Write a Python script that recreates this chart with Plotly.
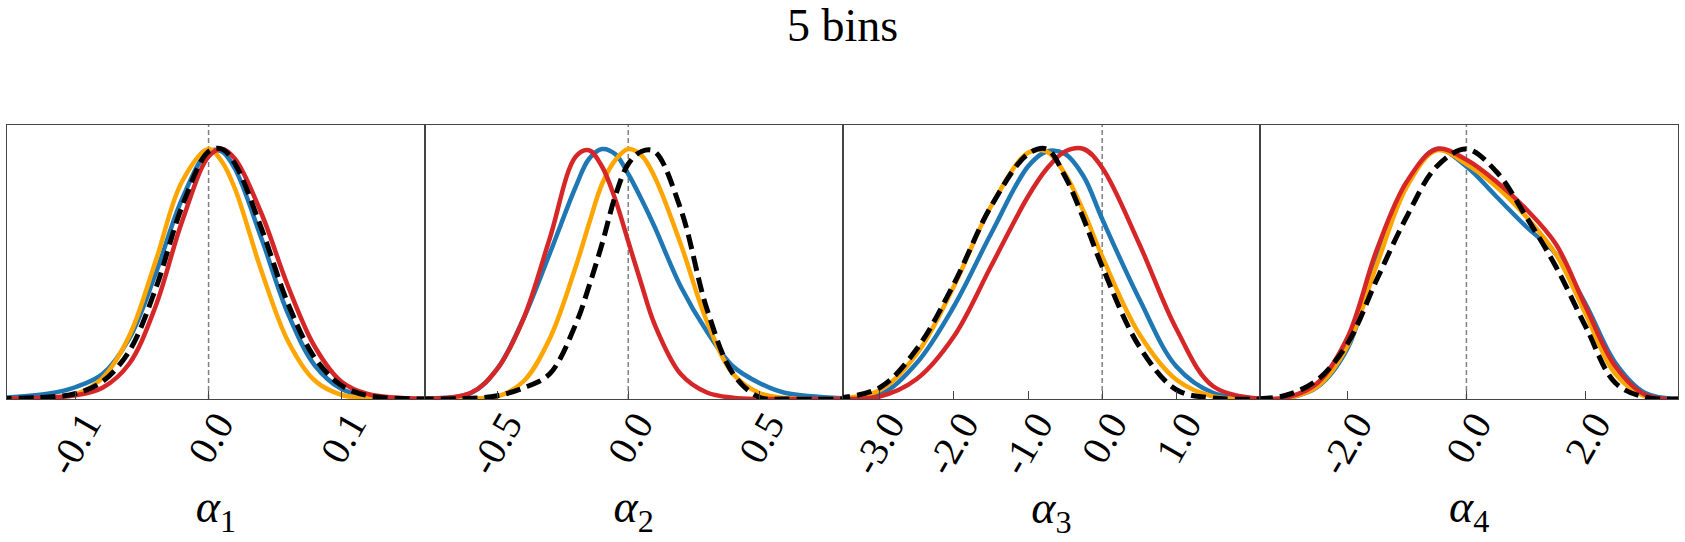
import plotly.graph_objects as go
from plotly.subplots import make_subplots

# ---- alpha_1 ----
P1_X = [-0.16, -0.12, -0.10, -0.08, -0.06, -0.04, -0.02, 0.0, 0.01, 0.02, 0.04, 0.06, 0.08, 0.10, 0.12, 0.17]
P1_BLUE = [0.004, 0.022, 0.048, 0.10, 0.24, 0.50, 0.80, 0.99, 0.99, 0.92, 0.64, 0.34, 0.135, 0.041, 0.01, 0.0]
P1_ORANGE = [0.001, 0.004, 0.02, 0.084, 0.25, 0.55, 0.87, 1.0, 0.95, 0.84, 0.51, 0.23, 0.074, 0.017, 0.003, 0.0]
P1_RED = [0.001, 0.006, 0.015, 0.045, 0.14, 0.37, 0.71, 0.97, 1.0, 0.96, 0.74, 0.45, 0.21, 0.07, 0.02, 0.0]
P1_TRUE = [0.001, 0.008, 0.022, 0.07, 0.19, 0.44, 0.77, 0.99, 1.0, 0.94, 0.68, 0.38, 0.165, 0.055, 0.014, 0.0]
P1_TICKS = [-0.1, 0.0, 0.1]
P1_LABELS = ["-0.1", "0.0", "0.1"]

# ---- alpha_2 ----
P2_X = [-0.8, -0.6, -0.5, -0.4, -0.3, -0.2, -0.15, -0.1, -0.05, 0.0, 0.05, 0.1, 0.2, 0.3, 0.4, 0.5, 0.6, 0.85]
P2_BLUE = [0.003, 0.024, 0.12, 0.32, 0.58, 0.85, 0.96, 1.0, 0.98, 0.90, 0.80, 0.69, 0.45, 0.27, 0.13, 0.064, 0.024, 0.002]
P2_ORANGE = [0.0, 0.003, 0.01, 0.07, 0.24, 0.53, 0.70, 0.86, 0.955, 1.0, 0.975, 0.89, 0.62, 0.31, 0.10, 0.024, 0.004, 0.0]
P2_RED = [0.001, 0.025, 0.12, 0.32, 0.64, 0.97, 0.995, 0.93, 0.80, 0.63, 0.46, 0.30, 0.10, 0.026, 0.005, 0.0, 0.0, 0.0]
P2_TRUE = [0.0, 0.003, 0.013, 0.044, 0.10, 0.30, 0.45, 0.62, 0.81, 0.94, 0.99, 0.99, 0.76, 0.36, 0.10, 0.007, 0.0, 0.0]
P2_TICKS = [-0.5, 0.0, 0.5]
P2_LABELS = ["-0.5", "0.0", "0.5"]

# ---- alpha_3 ----
P3_X = [-3.6, -3.0, -2.5, -2.0, -1.5, -1.0, -0.75, -0.5, -0.25, 0.0, 0.5, 1.0, 1.5, 2.2]
P3_BLUE = [0.002, 0.017, 0.144, 0.37, 0.66, 0.93, 0.99, 0.98, 0.89, 0.72, 0.40, 0.13, 0.024, 0.0]
P3_ORANGE = [0.001, 0.035, 0.18, 0.45, 0.77, 0.985, 0.99, 0.90, 0.75, 0.57, 0.26, 0.077, 0.01, 0.0]
P3_RED = [0.002, 0.01, 0.08, 0.25, 0.53, 0.81, 0.92, 0.99, 1.0, 0.925, 0.62, 0.28, 0.05, 0.0]
P3_TRUE = [0.002, 0.045, 0.20, 0.46, 0.77, 0.98, 1.0, 0.89, 0.72, 0.53, 0.21, 0.037, 0.004, 0.0]
P3_TICKS = [-3.0, -2.0, -1.0, 0.0, 1.0]
P3_LABELS = ["-3.0", "-2.0", "-1.0", "0.0", "1.0"]

# ---- alpha_4 ----
P4_X = [-3.5, -3.0, -2.5, -2.0, -1.5, -1.0, -0.5, 0.0, 0.5, 1.0, 1.5, 2.0, 2.5, 3.0, 3.6]
P4_BLUE = [0.0, 0.004, 0.048, 0.20, 0.56, 0.86, 1.0, 0.93, 0.81, 0.69, 0.58, 0.38, 0.144, 0.024, 0.0]
P4_ORANGE = [0.0, 0.004, 0.05, 0.21, 0.54, 0.85, 0.995, 0.94, 0.85, 0.73, 0.58, 0.34, 0.10, 0.01, 0.0]
P4_RED = [0.001, 0.007, 0.064, 0.244, 0.60, 0.87, 1.0, 0.957, 0.87, 0.76, 0.62, 0.37, 0.13, 0.017, 0.0]
P4_TRUE = [0.0, 0.017, 0.077, 0.22, 0.48, 0.73, 0.93, 1.0, 0.91, 0.73, 0.53, 0.29, 0.064, 0.007, 0.0]
P4_TICKS = [-2.0, 0.0, 2.0]
P4_LABELS = ["-2.0", "0.0", "2.0"]

panels = [
    dict(x=P1_X, curves=[P1_BLUE, P1_ORANGE, P1_RED, P1_TRUE], rng=[-0.152, 0.163],
         ticks=P1_TICKS, labels=P1_LABELS, name="1"),
    dict(x=P2_X, curves=[P2_BLUE, P2_ORANGE, P2_RED, P2_TRUE], rng=[-0.776, 0.817],
         ticks=P2_TICKS, labels=P2_LABELS, name="2"),
    dict(x=P3_X, curves=[P3_BLUE, P3_ORANGE, P3_RED, P3_TRUE], rng=[-3.5, 2.13],
         ticks=P3_TICKS, labels=P3_LABELS, name="3"),
    dict(x=P4_X, curves=[P4_BLUE, P4_ORANGE, P4_RED, P4_TRUE], rng=[-3.46, 3.55],
         ticks=P4_TICKS, labels=P4_LABELS, name="4"),
]

line_styles = [
    dict(color="#1f77b4", width=4.5),
    dict(color="#ffa500", width=4.5),
    dict(color="#d62728", width=4.5),
    dict(color="black", width=5, dash="15px,7px"),
]

SERIF = "Liberation Serif"

fig = make_subplots(rows=1, cols=4, horizontal_spacing=0)

for i, p in enumerate(panels):
    col = i + 1
    for ys, style in zip(p["curves"], line_styles):
        fig.add_trace(go.Scatter(
            x=p["x"], y=ys, mode="lines",
            line=dict(shape="spline", smoothing=1.0, **style),
            showlegend=False, hoverinfo="skip",
        ), row=1, col=col)

    # reference value at zero
    fig.add_shape(type="line", x0=0, x1=0, y0=0, y1=1,
                  xref=f"x{'' if col == 1 else col}",
                  yref=f"y{'' if col == 1 else col} domain",
                  line=dict(color="#808080", width=1.5, dash="5px,3px"),
                  layer="below")

    fig.update_xaxes(
        range=p["rng"], tickvals=p["ticks"], ticktext=p["labels"],
        tickangle=-60, ticks="inside", ticklen=8, tickcolor="#444",
        ticklabelshift=9, ticklabelstandoff=-15,
        tickfont=dict(family=SERIF, size=40, color="black"),
        showline=True, mirror=True, linecolor="#444", linewidth=1,
        showgrid=False, zeroline=False,
        title=dict(text=f"<i>α</i><sub>{p['name']}</sub>",
                   font=dict(family=SERIF, size=46, color="black"), standoff=8),
        row=1, col=col)
    fig.update_yaxes(
        range=[0, 1.096], showticklabels=False, ticks="",
        showline=True, mirror=True, linecolor="#444", linewidth=1,
        showgrid=False, zeroline=False,
        row=1, col=col)

fig.update_layout(
    width=1685, height=542,
    margin=dict(l=7, r=7, t=125, b=143),
    paper_bgcolor="white", plot_bgcolor="white",
    title=dict(text="5 bins", x=0.5, xanchor="center", y=0.955, yanchor="middle",
               font=dict(family=SERIF, size=46, color="black")),
    font=dict(family=SERIF, color="black"),
)

# the page's default body margin would shift the figure by 8px
fig.write_html("out.html", config={"displayModeBar": False},
               post_script="document.body.style.margin = '0';")
